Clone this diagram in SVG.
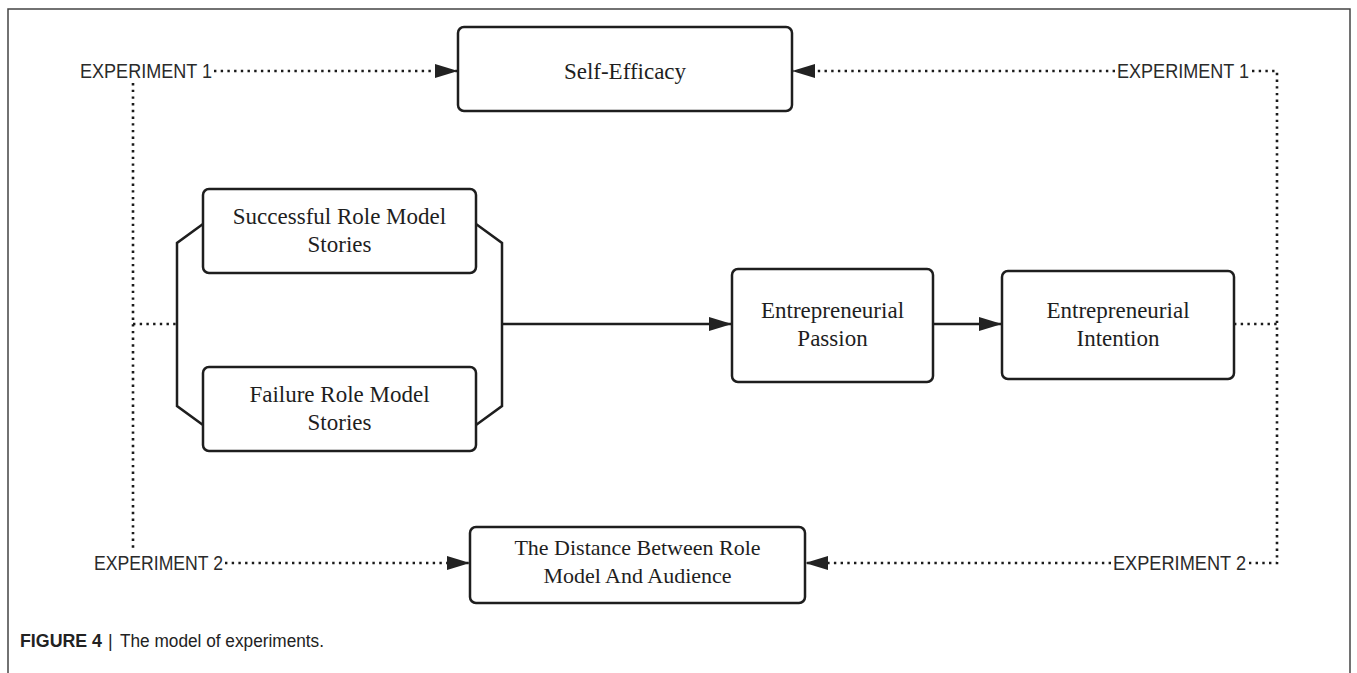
<svg xmlns="http://www.w3.org/2000/svg" width="1357" height="673" viewBox="0 0 1357 673">
<style>
.box{fill:#fff;stroke:#1e1e1e;stroke-width:2.5}
.lbl{font-family:"Liberation Serif","Times New Roman",serif;font-size:23px;fill:#1e1e1e;text-anchor:middle}
.exp{font-family:"Liberation Sans",Arial,sans-serif;font-size:19.5px;fill:#2a2a2a}
.dot{fill:none;stroke:#1a1a1a;stroke-width:2.6;stroke-dasharray:2.4 4.3}
.sol{fill:none;stroke:#1e1e1e;stroke-width:2.5}
.cap{font-family:"Liberation Sans",Arial,sans-serif;font-size:18px;fill:#222}
</style>
<defs>
<marker id="ah" markerWidth="24" markerHeight="16" refX="23" refY="8" orient="auto" markerUnits="userSpaceOnUse">
<path d="M0,1 L23,8 L0,15 Z" fill="#222"/>
</marker>
</defs>
<rect width="1357" height="673" fill="#fff"/>
<path d="M8,673 V9 H1350 V673" fill="none" stroke="#444" stroke-width="1.5"/>

<g id="connectors">
<path class="dot" d="M214,71 H458" marker-end="url(#ah)"/>
<path class="dot" d="M1115,71 H792" marker-end="url(#ah)"/>
<path class="dot" d="M1252,71 H1277 V563 H1249"/>
<path class="dot" d="M225,563 H470" marker-end="url(#ah)"/>
<path class="dot" d="M1111,563 H805" marker-end="url(#ah)"/>
<path class="dot" d="M133,83 V552"/>
<path class="dot" d="M133,324 H177"/>
<path class="dot" d="M1234,324 H1277"/>
<path class="sol" d="M203,224 L177,243 V406 L203,425"/>
<path class="sol" d="M476,224 L502,243 V406 L476,425"/>
<path class="sol" d="M502,324 H732" marker-end="url(#ah)"/>
<path class="sol" d="M933,324 H1002" marker-end="url(#ah)"/>
</g>

<g id="exp-labels">
<text class="exp" x="80" y="78" textLength="132" lengthAdjust="spacingAndGlyphs">EXPERIMENT 1</text>
<text class="exp" x="1117" y="78" textLength="132" lengthAdjust="spacingAndGlyphs">EXPERIMENT 1</text>
<text class="exp" x="94" y="570" textLength="129" lengthAdjust="spacingAndGlyphs">EXPERIMENT 2</text>
<text class="exp" x="1113" y="570" textLength="133" lengthAdjust="spacingAndGlyphs">EXPERIMENT 2</text>
</g>

<g id="self-efficacy">
<rect class="box" x="458" y="27" width="334" height="84" rx="6"/>
<text class="lbl" x="625" y="79">Self-Efficacy</text>
</g>

<g id="successful">
<rect class="box" x="203" y="189" width="273" height="84" rx="6"/>
<text class="lbl" x="339.5" y="224">Successful Role Model</text>
<text class="lbl" x="339.5" y="252">Stories</text>
</g>

<g id="failure">
<rect class="box" x="203" y="367" width="273" height="84" rx="6"/>
<text class="lbl" x="339.5" y="402">Failure Role Model</text>
<text class="lbl" x="339.5" y="430">Stories</text>
</g>

<g id="passion">
<rect class="box" x="732" y="269" width="201" height="113" rx="6"/>
<text class="lbl" x="832.5" y="318">Entrepreneurial</text>
<text class="lbl" x="832.5" y="346">Passion</text>
</g>

<g id="intention">
<rect class="box" x="1002" y="271" width="232" height="108" rx="6"/>
<text class="lbl" x="1118" y="318">Entrepreneurial</text>
<text class="lbl" x="1118" y="346">Intention</text>
</g>

<g id="distance">
<rect class="box" x="470" y="527" width="335" height="76" rx="6"/>
<text class="lbl" x="637.5" y="555" style="font-size:22px">The Distance Between Role</text>
<text class="lbl" x="637.5" y="583" style="font-size:22px">Model And Audience</text>
</g>

<g id="caption">
<text class="cap" x="20" y="647" font-weight="bold" textLength="82" lengthAdjust="spacingAndGlyphs">FIGURE 4</text>
<text class="cap" x="108" y="647">|</text>
<text class="cap" x="120" y="647" textLength="204" lengthAdjust="spacingAndGlyphs">The model of experiments.</text>
</g>
</svg>
